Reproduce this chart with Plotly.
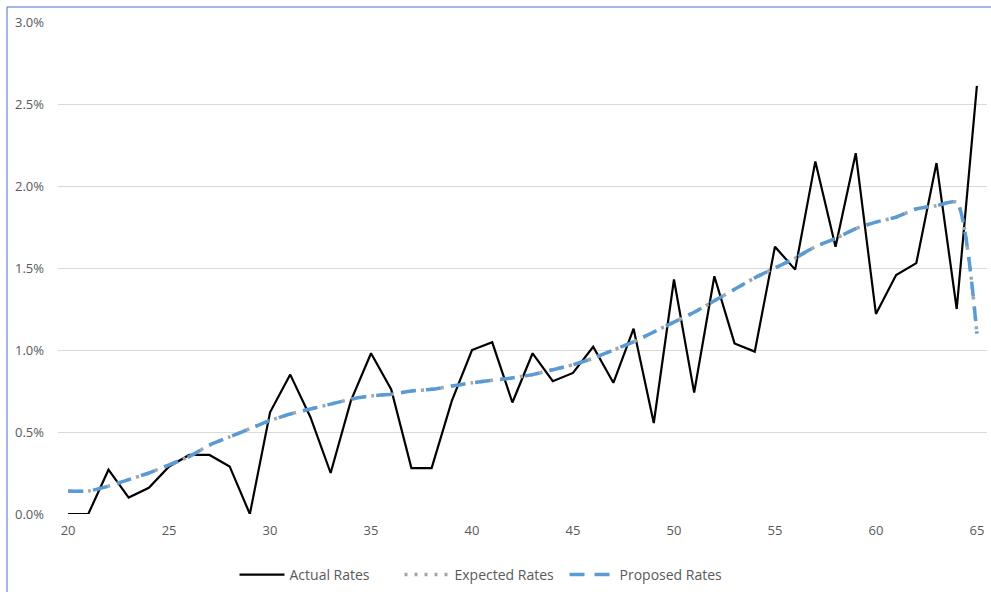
import plotly.graph_objects as go

ages = list(range(20, 66))
actual_rates = [0.00, 0.00, 0.27, 0.10, 0.16, 0.29, 0.36, 0.36, 0.29, 0.00,
                0.62, 0.85, 0.59, 0.25, 0.69, 0.98, 0.76, 0.28, 0.28, 0.69,
                1.00, 1.047, 0.68, 0.98, 0.81, 0.86, 1.02, 0.80, 1.13, 0.555,
                1.43, 0.74, 1.45, 1.04, 0.99, 1.63, 1.49, 2.15, 1.63, 2.20,
                1.22, 1.457, 1.53, 2.14, 1.25, 2.61]
expected_rates = [0.14, 0.14, 0.17, 0.21, 0.25, 0.30, 0.35, 0.42, 0.47, 0.52,
                  0.57, 0.61, 0.64, 0.67, 0.70, 0.72, 0.73, 0.75, 0.76, 0.78,
                  0.80, 0.815, 0.83, 0.85, 0.88, 0.91, 0.95, 1.00, 1.05, 1.11,
                  1.17, 1.23, 1.30, 1.37, 1.44, 1.50, 1.56, 1.63, 1.68, 1.74,
                  1.78, 1.81, 1.86, 1.88, 1.90, 1.10]
proposed_rates = [0.14, 0.14, 0.17, 0.21, 0.25, 0.30, 0.35, 0.42, 0.47, 0.52,
                  0.57, 0.61, 0.64, 0.67, 0.70, 0.72, 0.73, 0.75, 0.76, 0.78,
                  0.80, 0.815, 0.83, 0.85, 0.88, 0.91, 0.95, 1.00, 1.05, 1.11,
                  1.17, 1.23, 1.30, 1.37, 1.44, 1.50, 1.56, 1.63, 1.68, 1.74,
                  1.78, 1.81, 1.86, 1.88, 1.90, 1.10]
y_ticks = [0.0, 0.5, 1.0, 1.5, 2.0, 2.5, 3.0]
y_tick_labels = ["0.0%", "0.5%", "1.0%", "1.5%", "2.0%", "2.5%", "3.0%"]
x_ticks = [20, 25, 30, 35, 40, 45, 50, 55, 60, 65]

fig = go.Figure()
fig.add_trace(go.Scatter(x=ages, y=actual_rates, mode="lines", name="Actual Rates",
                         line=dict(color="#000000", width=2.2)))
fig.add_trace(go.Scatter(x=ages, y=expected_rates, mode="lines", name="Expected Rates",
                         line=dict(color="#A5A5A5", width=3.5, dash="3px,7px", shape="spline", smoothing=0.6)))
fig.add_trace(go.Scatter(x=ages, y=proposed_rates, mode="lines", name="Proposed Rates",
                         line=dict(color="#5B9BD5", width=3.5, dash="15px,10px", shape="spline", smoothing=0.6)))

fig.update_layout(
    width=991, height=592,
    margin=dict(l=58, r=4, t=22, b=78, autoexpand=False),
    paper_bgcolor="white", plot_bgcolor="white",
    font=dict(family="Open Sans", size=14, color="#595959"),
    showlegend=True,
    legend=dict(orientation="h", x=0.19, xanchor="left", y=-0.124, yanchor="middle",
                font=dict(size=14, color="#595959"), traceorder="normal",
                itemwidth=45, entrywidthmode="pixels", entrywidth=105),
    xaxis=dict(range=[19.5, 65.5], tickmode="array", tickvals=x_ticks,
               showgrid=False, zeroline=False, showline=False, ticks="",
               tickfont=dict(size=13, color="#595959"), ticklabelstandoff=7),
    yaxis=dict(range=[0, 3.0], tickmode="array", tickvals=y_ticks, ticktext=y_tick_labels,
               showgrid=True, gridcolor="#D9D9D9", gridwidth=1, zeroline=False,
               showline=False, ticks="", tickfont=dict(size=13, color="#595959"),
               ticklabelstandoff=13),
    shapes=[dict(type="rect", xref="paper", yref="paper",
                 x0=-0.0549, x1=1.02, y0=-0.2, y1=1.0305,
                 line=dict(color="#4472C4", width=1), layer="below")],
)

fig.write_html("out.html", config={"displayModeBar": False},
               post_script="document.body.style.margin='0';document.body.style.overflow='hidden';")
